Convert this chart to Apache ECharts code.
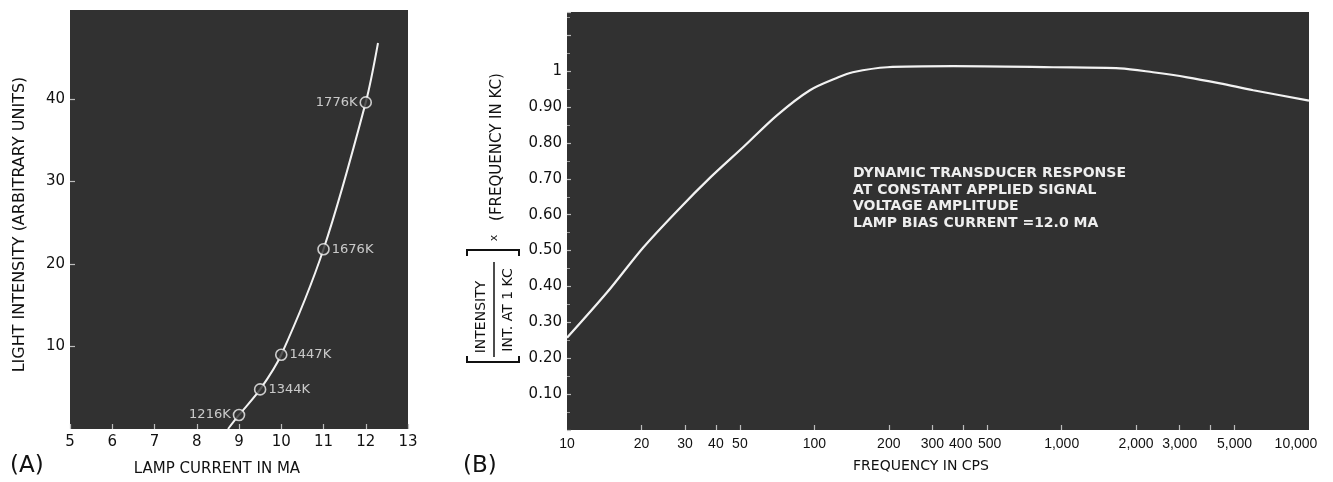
<!DOCTYPE html>
<html><head><meta charset="utf-8">
<script src="https://cdn.jsdelivr.net/npm/echarts@6/dist/echarts.min.js"></script>
<style>html,body{margin:0;padding:0;background:#fff}#c{width:1333px;height:482px}</style>
</head><body><div id="c"></div>
<script>
// ---------- Panel (A) data ----------
const lampCurrentMA   = [9.0, 9.5, 10.0, 11.0, 12.0];
const lightIntensity  = [1.7, 4.8, 9.0, 21.8, 39.6];
const lampTempLabels  = ['1216K', '1344K', '1447K', '1676K', '1776K'];
const curveCurrentMA  = [8.74, 9.0, 9.5, 10.0, 11.0, 12.0, 12.29];
const curveIntensity  = [0, 1.7, 4.8, 9.0, 21.8, 39.6, 46.8];
const intensityTicks  = [10, 20, 30, 40];

// ---------- Panel (B) data ----------
const freqCPS     = [10, 14.5, 20.3, 28, 38, 51.5, 70.6, 96, 125, 143, 197, 364, 923, 1720, 2340, 3220, 4370, 5950, 10000];
const relResponse = [0.257, 0.383, 0.508, 0.612, 0.704, 0.788, 0.877, 0.947, 0.983, 0.997, 1.011, 1.014, 1.011, 1.008, 0.997, 0.983, 0.966, 0.947, 0.918];
const freqTickValues = [10, 20, 30, 40, 50, 100, 200, 300, 400, 500, 1000, 2000, 3000, 5000, 10000];
const freqTickLabels = ['10', '20', '30', '40', '50', '100', '200', '300', '400', '500', '1,000', '2,000', '3,000', '5,000', '10,000'];
const freqTickMarks  = [20, 30, 40, 50, 100, 200, 300, 400, 500, 1000, 2000, 3000, 4000, 5000];
const responseTicks  = [0.1, 0.2, 0.3, 0.4, 0.5, 0.6, 0.7, 0.8, 0.9, 1.0];
const responseTickLabels = ['0.10', '0.20', '0.30', '0.40', '0.50', '0.60', '0.70', '0.80', '0.90', '1'];
const noteLines = ['DYNAMIC TRANSDUCER RESPONSE', 'AT CONSTANT APPLIED SIGNAL', 'VOLTAGE AMPLITUDE', 'LAMP BIAS CURRENT =12.0 MA'];

// ---------- styles ----------
const FONT = 'DejaVu Sans';
const NARROW = 'Liberation Sans';
const INK = '#111';
const PLOT_BG = '#313131';
const CURVE = '#f2f2f2';
const tempLabelSide = ['left', 'right', 'right', 'right', 'left'];
// label nudges (style only) for crowded log-axis labels
const freqLabelStyleKey = {'400': 'l', '500': 'r', '10,000': 'last'};

function nearestLabel(values, labels, v) {
  let best = 0;
  for (let i = 1; i < values.length; i++) {
    if (Math.abs(Math.log(values[i]) - Math.log(v)) < Math.abs(Math.log(values[best]) - Math.log(v))) best = i;
  }
  return labels[best];
}

const chart = echarts.init(document.getElementById('c'), null, {renderer: 'canvas'});

const tickStyle = {show: true, inside: true, length: 5, lineStyle: {color: '#bdbdbd', width: 1.2}};
const freqLabelBase = {color: INK, fontSize: 14, fontFamily: NARROW};

const option = {
  backgroundColor: '#ffffff',
  animation: false,
  grid: [
    {left: 70, top: 10, width: 338, height: 420, show: true, backgroundColor: PLOT_BG, borderWidth: 0},
    {left: 567, top: 12, width: 742, height: 418, show: true, backgroundColor: PLOT_BG, borderWidth: 0}
  ],
  xAxis: [
    {
      type: 'value', gridIndex: 0, min: 5, max: 13, interval: 1,
      axisLine: {show: false}, splitLine: {show: false},
      axisTick: tickStyle,
      axisLabel: {color: INK, fontSize: 15, fontFamily: FONT, margin: 6},
      name: 'LAMP CURRENT IN MA', nameLocation: 'middle', nameGap: 33,
      nameTextStyle: {color: INK, fontSize: 15, fontFamily: FONT, padding: [0, 44, 0, 0]}
    },
    {
      type: 'log', logBase: 10, gridIndex: 1, min: 10, max: 10000,
      axisLine: {show: false}, splitLine: {show: false}, minorTick: {show: false},
      axisTick: Object.assign({}, tickStyle, {customValues: freqTickMarks}),
      axisLabel: Object.assign({}, freqLabelBase, {
        margin: 7,
        customValues: freqTickValues,
        formatter: v => {
          const t = nearestLabel(freqTickValues, freqTickLabels, v);
          const k = freqLabelStyleKey[t];
          return k ? '{' + k + '|' + t + '}' : t;
        },
        rich: {
          last: Object.assign({}, freqLabelBase, {padding: [0, 26, 0, 0]}),
          l: Object.assign({}, freqLabelBase, {padding: [0, 5, 0, 0]}),
          r: Object.assign({}, freqLabelBase, {padding: [0, 0, 0, 5]})
        }
      }),
      name: 'FREQUENCY IN CPS', nameLocation: 'middle', nameGap: 29,
      nameTextStyle: {color: INK, fontSize: 14, fontFamily: FONT, padding: [0, 34, 0, 0]}
    }
  ],
  yAxis: [
    {
      type: 'value', gridIndex: 0, min: 0, max: 50.8, interval: 10,
      axisLine: {show: false}, splitLine: {show: false},
      axisTick: Object.assign({}, tickStyle, {customValues: intensityTicks}),
      axisLabel: {color: INK, fontSize: 15, fontFamily: FONT, margin: 5, customValues: intensityTicks},
      name: 'LIGHT INTENSITY (ARBITRARY UNITS)', nameLocation: 'middle', nameGap: 42, nameRotate: 90,
      nameTextStyle: {color: INK, fontSize: 16, fontFamily: FONT, padding: [0, 10, 0, 0]}
    },
    {
      type: 'value', gridIndex: 1, min: 0, max: 1.165, interval: 0.1,
      axisLine: {show: false}, splitLine: {show: false},
      axisTick: Object.assign({}, tickStyle, {length: 4}),
      minorTick: {show: true, splitNumber: 2, length: 3, lineStyle: {color: '#9a9a9a'}},
      axisLabel: {
        color: INK, fontSize: 15, fontFamily: FONT, margin: 5,
        customValues: responseTicks,
        formatter: v => {
          let best = 0;
          responseTicks.forEach((t, i) => { if (Math.abs(t - v) < Math.abs(responseTicks[best] - v)) best = i; });
          return responseTickLabels[best];
        }
      }
    }
  ],
  series: [
    {
      type: 'line', xAxisIndex: 0, yAxisIndex: 0,
      data: curveCurrentMA.map((x, i) => [x, curveIntensity[i]]),
      smooth: 0.3, symbol: 'none',
      lineStyle: {color: CURVE, width: 2}, z: 3
    },
    {
      type: 'scatter', xAxisIndex: 0, yAxisIndex: 0,
      data: lampCurrentMA.map((x, i) => ({
        value: [x, lightIntensity[i]],
        label: {position: tempLabelSide[i]}
      })),
      symbol: 'circle', symbolSize: 11,
      itemStyle: {color: PLOT_BG, borderColor: CURVE, borderWidth: 1.6},
      label: {
        show: true, color: '#f0f0f0', fontSize: 13, fontFamily: FONT, distance: 2,
        formatter: p => lampTempLabels[p.dataIndex]
      },
      z: 4
    },
    {
      type: 'line', xAxisIndex: 1, yAxisIndex: 1,
      data: freqCPS.map((f, i) => [f, relResponse[i]]),
      smooth: 0.3, symbol: 'none',
      lineStyle: {color: CURVE, width: 2.2}, z: 3
    }
  ],
  graphic: [
    {type: 'text', x: 10, y: 466, style: {text: '(A)', fontSize: 23, fontFamily: FONT, fill: INK, verticalAlign: 'middle'}},
    {type: 'text', x: 463, y: 466, style: {text: '(B)', fontSize: 23, fontFamily: FONT, fill: INK, verticalAlign: 'middle'}},
    {type: 'text', x: 853, y: 165, z: 10, style: {
      text: noteLines.join('\n'), fontSize: 14, fontWeight: 'bold', fontFamily: FONT, fill: '#eeeeee', lineHeight: 16.7, verticalAlign: 'top'}},
    // y-axis title of panel (B): [INTENSITY / INT. AT 1 KC] x (FREQUENCY IN KC)
    {type: 'text', x: 481, y: 317, rotation: Math.PI / 2, style: {text: 'INTENSITY', fontSize: 14, fontFamily: FONT, fill: INK, align: 'center', verticalAlign: 'middle'}},
    {type: 'text', x: 508, y: 310, rotation: Math.PI / 2, style: {text: 'INT. AT 1 KC', fontSize: 14, fontFamily: FONT, fill: INK, align: 'center', verticalAlign: 'middle'}},
    {type: 'line', shape: {x1: 494, y1: 262, x2: 494, y2: 357}, style: {stroke: INK, lineWidth: 1.5}},
    {type: 'polyline', shape: {points: [[467, 356], [467, 362], [519, 362], [519, 356]]}, style: {stroke: INK, fill: null, lineWidth: 2}},
    {type: 'polyline', shape: {points: [[467, 256], [467, 250], [519, 250], [519, 256]]}, style: {stroke: INK, fill: null, lineWidth: 2}},
    {type: 'text', x: 494, y: 238, rotation: Math.PI / 2, style: {text: 'x', fontSize: 11, fontFamily: FONT, fill: INK, align: 'center', verticalAlign: 'middle'}},
    {type: 'text', x: 497, y: 147, rotation: Math.PI / 2, style: {text: '(FREQUENCY IN KC)', fontSize: 15, fontFamily: FONT, fill: INK, align: 'center', verticalAlign: 'middle'}}
  ]
};
chart.setOption(option);
</script>
</body></html>
